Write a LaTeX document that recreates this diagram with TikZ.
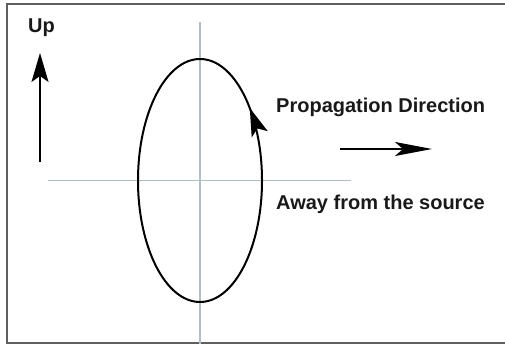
\documentclass[tikz,border=0pt]{standalone}
\usepackage{fontspec}
\setmainfont{Liberation Sans}
\usetikzlibrary{arrows.meta,decorations.markings}
\definecolor{axisgray}{RGB}{178,192,196}
\definecolor{framegray}{RGB}{95,95,95}
\tikzset{
  axisline/.style={draw=axisgray, line width=1.2pt},
  frameline/.style={draw=framegray, line width=2pt},
  label/.style={font=\bfseries\fontsize{20}{24}\selectfont, inner sep=0pt, anchor=base west, text=black!90},
  bigarrow/.style={line width=1.8pt, -{Stealth[length=29pt, width=17pt, inset=6pt]}},
}
\begin{document}
\begin{tikzpicture}[x=1pt,y=1pt]
\useasboundingbox (0,0) rectangle (505,344);
% frame
\draw[frameline] (506,1) -- (7,1) -- (7,340) -- (506,340);
% axes
\coordinate (vt) at (200,322);
\coordinate (vb) at (200,0);
\coordinate (hl) at (48,163.5);
\coordinate (hr) at (351,163.5);
\draw[axisline] (vt) -- (vb);
\draw[axisline] (hl) -- (hr);
% ellipse with arrow
\node[draw=none, inner sep=0pt] (c) at (200,163.5) {};
\draw[line width=2pt, postaction={decorate},
  decoration={markings, mark=at position 0.125 with {\arrow{Stealth[length=28pt, width=17pt, inset=6pt]}}}]
  (c) ellipse [x radius=62, y radius=121.5];
% Up arrow
\coordinate (ub) at (40,182);
\coordinate (ut) at (40,291);
\draw[bigarrow] (ub) -- (ut);
\node[label] (up) at (28,311) {Up};
% propagation arrow
\coordinate (pl) at (340,195);
\coordinate (pr) at (432,195);
\draw[line width=1.8pt, -{Stealth[length=37pt, width=14pt, inset=8pt]}] (pl) -- (pr);
\node[label] (prop) at (276,231) {Propagation Direction};
\node[label] (away) at (276,134) {Away from the source};
\end{tikzpicture}
\end{document}
